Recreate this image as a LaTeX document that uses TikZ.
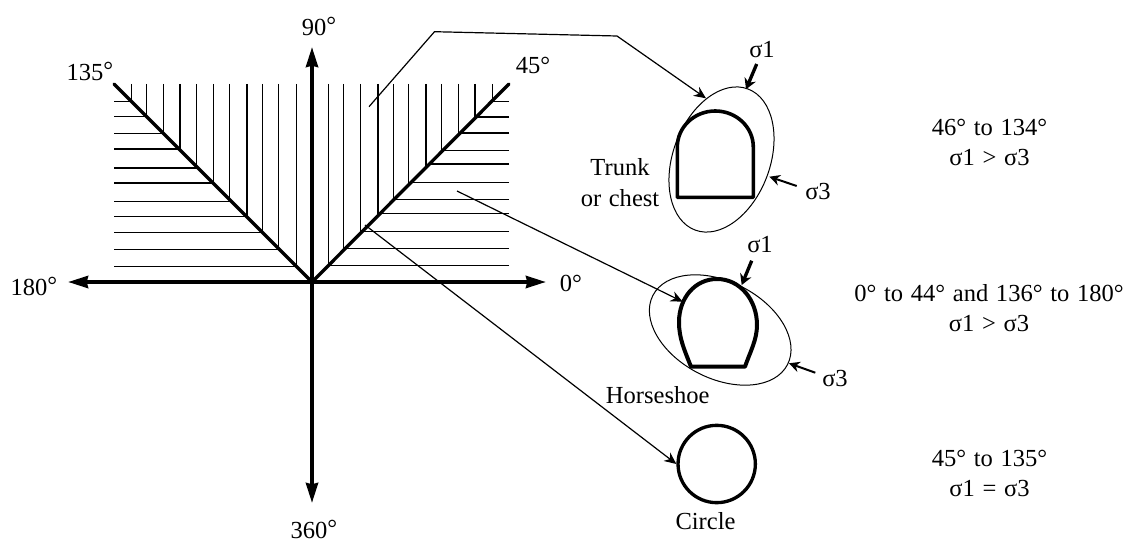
\documentclass[tikz,border=0pt]{standalone}
\usepackage{fontspec}
\setmainfont[WordSpace=1.25]{Liberation Serif}
\usetikzlibrary{shapes.geometric,arrows.meta}
\newcommand{\hideg}{\raisebox{1.5pt}{°}}

\begin{document}
\begin{tikzpicture}[x=0.75pt, y=-0.75pt]
    % Define styles
    \tikzstyle{label} = [font=\fontsize{18.4}{23}\selectfont, align=center, inner sep=0pt]
    \tikzstyle{hatch} = [line width=0.9pt]
    \tikzstyle{wedge} = [line width=2.5pt, line cap=round]
    \tikzstyle{axis} = [line width=2.8pt, {Stealth[length=15pt,width=9pt,inset=1pt]}-{Stealth[length=15pt,width=9pt,inset=1pt]}]
    \tikzstyle{halo} = [ellipse, draw=black, line width=0.75pt, inner sep=0pt]
    \tikzstyle{tunnel} = [draw=black, line width=2.7pt, line join=round]
    \tikzstyle{leader} = [line width=0.9pt, -{Stealth[length=9pt,width=8pt]}]
    \tikzstyle{stress} = [line width=1.5pt, -{Stealth[length=8pt,width=8pt]}]
    \tikzstyle{stressbig} = [line width=2.5pt, -{Stealth[length=8pt,width=9pt]}]

    \useasboundingbox (0,0) rectangle (1125,542);

    % Hatching
    \foreach \hx in {131.7,146.7,163.7,180,196.3,213.3,229.7,247,262.7,278.7,296.3}
        \draw [hatch] (\hx,84) -- (\hx,{\hx-30});
    \foreach \hx in {328.7,343.3,360.3,378,393.3,408.7,426,441.7,458.7,475,492.3}
        \draw [hatch] (\hx,84) -- (\hx,{593-\hx});
    \foreach \hy in {101.3,116.7,133.3,149,168,183,201.3,216.7,232.3,249.3,266.7}
        \draw [hatch] (114,\hy) -- ({\hy+30},\hy);
    \foreach \hy in {101.3,117,133,150.7,164,182.3,199.3,213.3,231.7,248.3,265.3}
        \draw [hatch] (509,\hy) -- ({593-\hy},\hy);

    % Axes
    \coordinate (origin) at (312,282);
    \coordinate (west) at (68,282);
    \coordinate (east) at (546,282);
    \coordinate (north) at (312,47);
    \coordinate (south) at (312,503);
    \coordinate (nw) at (114,84);
    \coordinate (ne) at (509,84);
    \draw [axis] (west) -- (east);
    \draw [axis] (south) -- (north);
    \draw [wedge] (nw) -- (origin) -- (ne);

    % Shapes
    \node [halo, minimum width=72.75pt, minimum height=113pt, rotate=-20.5] (halotrunk) at (721.5,159.5) {};
    \node [halo, minimum width=113.5pt, minimum height=72.5pt, rotate=-27.2] (haloshoe) at (720.2,330) {};
    \draw [tunnel] (677.3,197.3) -- (677.3,147) arc [start angle=180, end angle=360, x radius=38, y radius=36] -- (753.3,197.3) -- cycle;
    \draw [tunnel, line width=3pt] (691,366.7) .. controls (684,349) and (679,338) .. (679,322)
        .. controls (679,298) and (695,279) .. (717,279)
        .. controls (740,279) and (757,300) .. (757,325)
        .. controls (757,340) and (750,352) .. (745,366.7) -- cycle;
    \node [circle, draw=black, line width=2.5pt, minimum size=58pt, inner sep=0pt] (round) at (716.7,464) {};

    % Labels
    \node [label] (deg90) at (319,26) {90\hideg};
    \node [label] (deg135) at (90,71) {135\hideg};
    \node [label] (deg45) at (533,65) {45°};
    \node [label] (deg0) at (571,283) {0°};
    \node [label] (deg180) at (34,286) {180\hideg};
    \node [label] (deg360) at (314,529) {360\hideg};
    \node [label] (trunk) at (620,182.5) {Trunk\\or chest};
    \node [label] (shoe) at (657.7,395) {Horseshoe};
    \node [label] (circ) at (705.5,521) {Circle};
    \node [label] (s1a) at (762,50) {σ1};
    \node [label] (s3a) at (818,191) {σ3};
    \node [label] (s1b) at (760,245) {σ1};
    \node [label] (s3b) at (835,378) {σ3};
    \node [label] (rangea) at (989.5,142.5) {46° to 134°\\σ1 > σ3};
    \node [label] (rangeb) at (989,308) {0° to 44° and 136° to 180°\\σ1 > σ3};
    \node [label] (rangec) at (989.5,473.5) {45° to 135°\\σ1 = σ3};

    % Arrows
    \coordinate (fromvert) at (369,106.7);
    \coordinate (benda) at (434.5,31.7);
    \coordinate (bendb) at (617,36);
    \coordinate (tovert) at (706,98.3);
    \coordinate (fromhoriz) at (457,191);
    \coordinate (tohoriz) at (682.7,301.7);
    \coordinate (fromdiag) at (365,225);
    \draw [leader] (fromvert) -- (benda) -- (bendb) -- (tovert);
    \draw [leader] (fromhoriz) -- (tohoriz);
    \draw [leader] (fromdiag) -- (round.west);

    \coordinate (s1atail) at (756.7,64);
    \coordinate (s1ahead) at (746,89.3);
    \coordinate (s3atail) at (796.7,186);
    \coordinate (s3ahead) at (769.3,176.7);
    \coordinate (s1btail) at (751.7,260.7);
    \coordinate (s1bhead) at (741.7,285);
    \coordinate (s3btail) at (815.3,372.7);
    \coordinate (s3bhead) at (789,363.3);
    \draw [stressbig] (s1atail) -- (s1ahead);
    \draw [stress] (s3atail) -- (s3ahead);
    \draw [stressbig] (s1btail) -- (s1bhead);
    \draw [stress] (s3btail) -- (s3bhead);
\end{tikzpicture}
\end{document}
